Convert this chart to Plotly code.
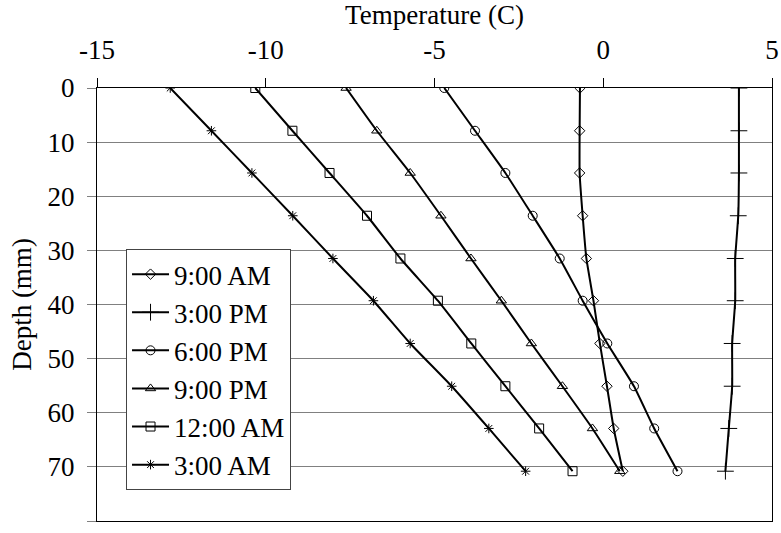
import plotly.graph_objects as go

depth = [0, 7.9, 15.7, 23.6, 31.5, 39.3, 47.2, 55.1, 62.9, 70.8]

t_9am = [-0.69, -0.70, -0.70, -0.61, -0.50, -0.29, -0.10, 0.11, 0.31, 0.58]
t_3pm = [4.02, 4.02, 4.02, 4.00, 3.91, 3.91, 3.82, 3.82, 3.72, 3.62]
t_6pm = [-4.71, -3.80, -2.90, -2.09, -1.29, -0.61, 0.12, 0.91, 1.51, 2.20]
t_9pm = [-7.62, -6.71, -5.72, -4.81, -3.92, -3.02, -2.13, -1.21, -0.32, 0.49]
t_12am = [-10.31, -9.21, -8.11, -7.00, -6.01, -4.90, -3.91, -2.90, -1.90, -0.91]
t_3am = [-12.83, -11.61, -10.41, -9.20, -8.01, -6.81, -5.72, -4.49, -3.39, -2.30]

series_names = ["9:00 AM", "3:00 PM", "6:00 PM", "9:00 PM", "12:00 AM", "3:00 AM"]
series_vals = [t_9am, t_3pm, t_6pm, t_9pm, t_12am, t_3am]

x_tick_vals = [-15, -10, -5, 0, 5]
x_tick_text = ["-15", "-10", "-5", "0", "5"]
y_tick_vals = [0, 10, 20, 30, 40, 50, 60, 70, 80]

symbols = ["diamond-open", "cross-thin-open", "circle-open", "triangle-up-open", "square-open", "asterisk-open"]
sizes = [8, 12, 9, 9, 9, 8]

FONT = "Liberation Serif, Times New Roman, serif"
FS = 27

fig = go.Figure()
for name, vals, sym, sz in zip(series_names, series_vals, symbols, sizes):
    fig.add_trace(go.Scatter(
        x=vals, y=depth, name=name, mode="lines+markers",
        line=dict(color="black", width=2, shape="spline", smoothing=0.4),
        marker=dict(symbol=sym, size=sz, color="black", line=dict(color="black", width=1)),
    ))

fig.update_layout(
    width=781, height=533, autosize=False,
    margin=dict(l=97, r=9, t=88, b=12, autoexpand=False),
    paper_bgcolor="white", plot_bgcolor="white",
    font=dict(family=FONT, size=FS, color="black"),
    showlegend=True,
    legend=dict(x=0.043, y=0.628, xanchor="left", yanchor="top",
                bgcolor="white", bordercolor="#444", borderwidth=1,
                font=dict(family=FONT, size=FS), tracegroupgap=0,
                itemwidth=37),
    xaxis=dict(
        side="top", range=[-15, 5], tickmode="array",
        tickvals=x_tick_vals, ticktext=x_tick_text,
        showgrid=False, zeroline=False, automargin=False,
        showline=True, linecolor="black", linewidth=1, mirror=True,
        ticks="outside", ticklen=9, tickcolor="black", ticklabelstandoff=8,
        title=dict(text="Temperature (C)", font=dict(family=FONT, size=FS), standoff=4),
        tickfont=dict(family=FONT, size=FS),
    ),
    yaxis=dict(
        range=[80, 0], tickmode="array", tickvals=y_tick_vals,
        showgrid=True, gridcolor="#808080", gridwidth=1, zeroline=False, automargin=False,
        showline=True, linecolor="black", linewidth=1, mirror=True,
        ticks="outside", ticklen=9, tickcolor="#808080", ticklabelstandoff=7,
        title=dict(text="Depth (mm)", font=dict(family=FONT, size=FS), standoff=8),
        tickfont=dict(family=FONT, size=FS),
    ),
)

fig.write_html("out.html")
